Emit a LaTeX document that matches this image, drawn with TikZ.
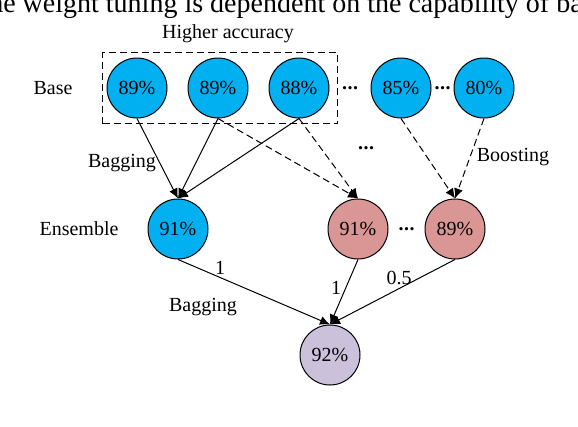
\documentclass[tikz,border=0pt]{standalone}
\usepackage{fontspec}
\setmainfont{Liberation Serif}
\usetikzlibrary{arrows.meta,positioning,fit,calc}
\definecolor{bagblue}{HTML}{00B0F0}
\definecolor{boostpink}{HTML}{D99694}
\definecolor{finallilac}{HTML}{CCC1DA}
\newcommand{\moredots}{\textbf{.\kern0.5pt.\kern0.5pt.}}

\begin{document}
\begin{tikzpicture}[x=1pt,y=-1pt,font=\fontsize{20}{23}\selectfont]
  
  \tikzset{model node/.style={circle, draw, line width=1pt,
  		minimum size=60pt, inner sep=0pt, text centered}, }
  \tikzset{bag node/.style={model node, fill=bagblue}, }
  \tikzset{boost node/.style={model node, fill=boostpink}, }
  \tikzset{linea/.style={-{Latex[length=10pt,width=9pt]}, line width=1pt}, }
  \tikzset{lineb/.style={linea, dash pattern=on 7pt off 4pt}, }
  \useasboundingbox (0,0) rectangle (578,426);
  \clip (0,0) rectangle (578,426);
    \node[anchor=base west, font=\fontsize{28}{30}\selectfont] (caption) at (-22,12)
      {the weight tuning is dependent on the capability of base};
    
    \node[bag node] (b1) at (137,88) {89\%};
    \node[bag node] (b2) [right=20pt of b1] {89\%};
    \node[bag node] (b3) [right=20pt of b2] {88\%};
    \node[bag node] (b4) [right=41pt of b3] {85\%};
    \node[bag node] (b5) [right=22pt of b4] {80\%};
    \node[inner sep=0pt] (d1) at ($(b3.east)!.5!(b4.west)$) {\moredots};
    \node[inner sep=0pt] (d2) at ($(b4.east)!.5!(b5.west)$) {\moredots};
    \node[draw, dash pattern=on 7pt off 4pt, line width=1pt, inner sep=0pt,
      fit={($(b1.west |- b1.north)+(-4pt,5pt)$) ($(b3.east |- b3.south)+(8pt,-5pt)$)}] (hibox) {};
    \node (hi) at (228,34) {Higher accuracy};
    \node (base) at (53,88) {Base};
    
    \node[bag node] (e1) at (178,229) {91\%};
    \node[boost node] (e2) at (358,229) {91\%};
    \node[boost node] (e3) [right=36pt of e2] {89\%};
    \node[inner sep=0pt] (d3) at ($(e2.east)!.5!(e3.west)$) {\moredots};
    \node[inner sep=0pt] (d4) at (366,148) {\moredots};
    \node (ens) at (79,229) {Ensemble};
    
    \node[model node, fill=finallilac] (f) at (330,355) {92\%};

\foreach \x /\y in{b1/e1,b2/e1,b3/e1,e1/f,e2/f,e3/f}
  \draw[linea] (\x.south) -- (\y.north);
\foreach \x /\y in{b2/e2,b3/e2,b4/e3,b5/e3}
  \draw[lineb] (\x.south) -- (\y.north);
%%
    \node (bag1) at (122,163) {Bagging};
    \node (boost) at (513,157) {Boosting};
    \node (w1) at (220,268) {1};
    \node (bag2) at (203,307) {Bagging};
    \node (w2) at (336,288) {1};
    \node (w3) at (399,278) {0.5};
\end{tikzpicture}
\end{document}
